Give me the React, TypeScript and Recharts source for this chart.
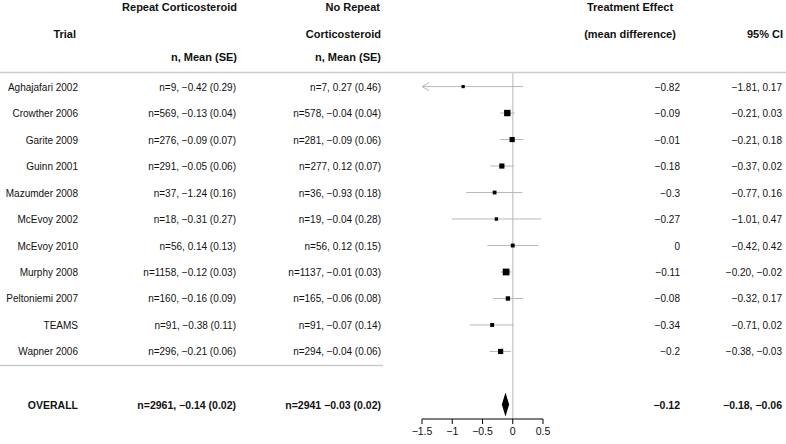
import { ComposedChart, Customized, ReferenceLine, Scatter, XAxis, YAxis } from "recharts";

const trials = [
  "Aghajafari 2002", "Crowther 2006", "Garite 2009", "Guinn 2001", "Mazumder 2008", "McEvoy 2002",
  "McEvoy 2010", "Murphy 2008", "Peltoniemi 2007", "TEAMS", "Wapner 2006",
];
const repeatN = [9, 569, 276, 291, 37, 18, 56, 1158, 160, 91, 296];
const repeatMean = [-0.42, -0.13, -0.09, -0.05, -1.24, -0.31, 0.14, -0.12, -0.16, -0.38, -0.21];
const repeatSE = [0.29, 0.04, 0.07, 0.06, 0.16, 0.27, 0.13, 0.03, 0.09, 0.11, 0.06];
const noRepeatN = [7, 578, 281, 277, 36, 19, 56, 1137, 165, 91, 294];
const noRepeatMean = [0.27, -0.04, -0.09, 0.12, -0.93, -0.04, 0.12, -0.01, -0.06, -0.07, -0.04];
const noRepeatSE = [0.46, 0.04, 0.06, 0.07, 0.18, 0.28, 0.15, 0.03, 0.08, 0.14, 0.06];
const effect = [-0.82, -0.09, -0.01, -0.18, -0.3, -0.27, 0, -0.11, -0.08, -0.34, -0.2];
const ciLow = [-1.81, -0.21, -0.21, -0.37, -0.77, -1.01, -0.42, -0.2, -0.32, -0.71, -0.38];
const ciHigh = [0.17, 0.03, 0.18, 0.02, 0.16, 0.47, 0.42, -0.02, 0.17, 0.02, -0.03];
// relative study weight (%), drives box size
const weight = [1, 25, 12, 12, 3, 1.5, 3.5, 30, 6, 3.5, 12];

const overallRepeat = [2961, -0.14, 0.02];
const overallNoRepeat = [2941, -0.03, 0.02];
const overallEffect = [-0.12, -0.18, -0.06];

const xTicks = [-1.5, -1, -0.5, 0, 0.5];
const X_MIN = -1.5;
const X_MAX = 0.5;
const OVERALL_ROW = 12;

const minus = (s: string) => s.replace(/-/g, "\u2212");
const f2 = (v: number) => minus(v.toFixed(2));

const rows = trials.map((t, i) => ({
  x: 0,
  y: i,
  bold: false,
  cols: [
    t,
    `n=${repeatN[i]}, ${f2(repeatMean[i])} (${f2(repeatSE[i])})`,
    `n=${noRepeatN[i]}, ${f2(noRepeatMean[i])} (${f2(noRepeatSE[i])})`,
    minus(String(effect[i])),
    `${f2(ciLow[i])}, ${f2(ciHigh[i])}`,
  ],
}));
rows.push({
  x: 0,
  y: OVERALL_ROW,
  bold: true,
  cols: [
    "OVERALL",
    `n=${overallRepeat[0]}, ${f2(overallRepeat[1])} (${f2(overallRepeat[2])})`,
    `n=${overallNoRepeat[0]} ${f2(overallNoRepeat[1])} (${f2(overallNoRepeat[2])})`,
    f2(overallEffect[0]),
    `${f2(overallEffect[1])}, ${f2(overallEffect[2])}`,
  ],
});

const boxes = trials.map((t, i) => ({ x: effect[i], y: i, w: weight[i] }));

const colEnd = [78, 236, 381, 680, 782];
const GRID = "#cccccc";
const CI_COLOR = "#b8b8b8";

function RowText(props: any) {
  const { cy, payload } = props;
  return (
    <g>
      {payload.cols.map((c: string, k: number) => (
        <text key={k} x={colEnd[k]} y={cy + 0.5} dy="0.35em" textAnchor="end"
          fontSize={payload.bold ? 10.5 : 10}
          fontWeight={payload.bold ? "bold" : "normal"} fill="#111">
          {c}
        </text>
      ))}
    </g>
  );
}

function Box(props: any) {
  const { cx, cy, payload } = props;
  const s = 2.4 + 0.8 * Math.sqrt(payload.w);
  return <rect x={cx - s / 2} y={cy - s / 2} width={s} height={s} fill="#000" />;
}

function Headers() {
  const h = { fontSize: 11, fontWeight: "bold" as const, fill: "#111" };
  return (
    <g>
      <text x={237} y={7} dy="0.35em" textAnchor="end" {...h}>Repeat Corticosteroid</text>
      <text x={380} y={7} dy="0.35em" textAnchor="end" {...h}>No Repeat</text>
      <text x={76} y={34} dy="0.35em" textAnchor="end" {...h}>Trial</text>
      <text x={381} y={34} dy="0.35em" textAnchor="end" {...h}>Corticosteroid</text>
      <text x={237} y={57} dy="0.35em" textAnchor="end" {...h}>n, Mean (SE)</text>
      <text x={381} y={57} dy="0.35em" textAnchor="end" {...h}>n, Mean (SE)</text>
      <text x={630} y={7} dy="0.35em" textAnchor="middle" {...h}>Treatment Effect</text>
      <text x={630} y={34} dy="0.35em" textAnchor="middle" {...h}>(mean difference)</text>
      <text x={783} y={34} dy="0.35em" textAnchor="end" {...h}>95% CI</text>
      <line x1={0} x2={786} y1={72.5} y2={72.5} stroke={GRID} strokeWidth={1.5} />
      <line x1={0} x2={383} y1={365.5} y2={365.5} stroke={GRID} strokeWidth={1.5} />
    </g>
  );
}

function CiLine(props: any) {
  const { x1, y1, x2, y2, arrow } = props;
  return (
    <g>
      <line x1={x1} y1={y1} x2={x2} y2={y2} stroke={CI_COLOR} strokeWidth={1} />
      {arrow && (
        <polyline points={`${x1 + 7},${y1 - 4} ${x1},${y1} ${x1 + 7},${y1 + 4}`} fill="none"
          stroke={CI_COLOR} strokeWidth={1} />
      )}
    </g>
  );
}

function Diamond(props: any) {
  const { x1, y1, x2 } = props;
  const mid = (x1 + x2) / 2;
  return <polygon points={`${x1},${y1} ${mid},${y1 - 12} ${x2},${y1} ${mid},${y1 + 12}`} fill="#000" />;
}

export default function App() {
  return (
    <div style={{ position: "absolute", left: 0, top: 0, fontFamily: "'Liberation Sans', Arial, sans-serif" }}>
      <ComposedChart width={786} height={444} margin={{ top: 72, right: 243, left: 422, bottom: 0 }}>
        <Customized component={Headers} />
        <XAxis type="number" dataKey="x" domain={[X_MIN, X_MAX]} ticks={xTicks}
          height={25} stroke="#000" tickSize={5} tickMargin={4}
          tick={{ fill: "#111", fontSize: 10.5 }} tickFormatter={(v: number) => minus(String(v))} />
        <YAxis type="number" dataKey="y" domain={[-0.55, 12.55]} reversed hide />
        <ReferenceLine x={0} stroke="#d0d0d0" strokeWidth={1.5} />
        {trials.map((t, i) => (
          <ReferenceLine key={t}
            segment={[{ x: Math.max(ciLow[i], X_MIN), y: i }, { x: Math.min(ciHigh[i], X_MAX), y: i }]}
            shape={(p: any) => <CiLine {...p} arrow={ciLow[i] < X_MIN} />} />
        ))}
        <ReferenceLine
          segment={[{ x: overallEffect[1], y: OVERALL_ROW }, { x: overallEffect[2], y: OVERALL_ROW }]}
          shape={(p: any) => <Diamond {...p} />} />
        <Scatter data={boxes} shape={<Box />} isAnimationActive={false} />
        <Scatter data={rows} shape={<RowText />} isAnimationActive={false} />
      </ComposedChart>
    </div>
  );
}
